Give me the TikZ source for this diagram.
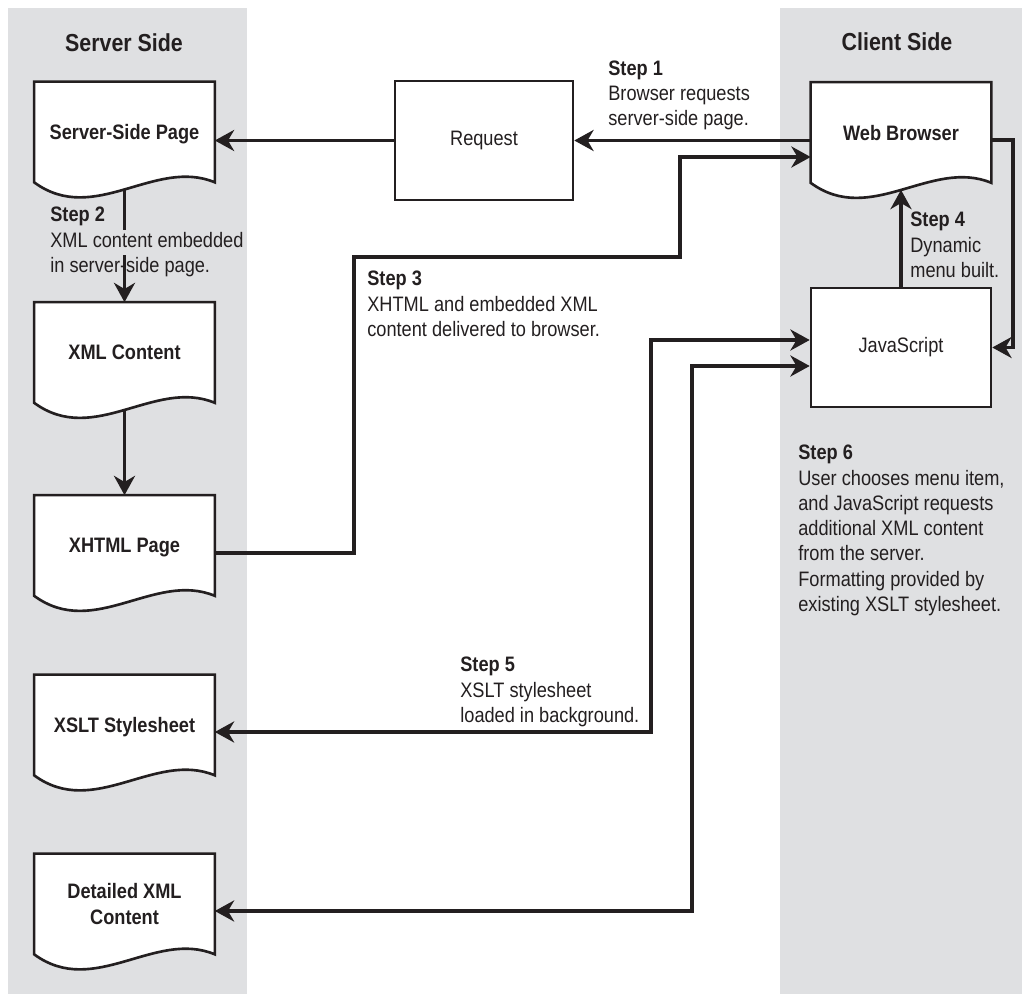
\documentclass[tikz,border=0pt]{standalone}
\usepackage{fontspec}
\setmainfont{Liberation Sans}[FakeStretch=0.87]
\usetikzlibrary{arrows.meta,calc}

\definecolor{panel}{RGB}{223,224,226}
\definecolor{ink}{RGB}{35,31,32}

\pgfdeclarelayer{bg}
\pgfdeclarelayer{docs}
\pgfsetlayers{bg,docs,main}

\newcommand{\bodysize}{\fontsize{11.9}{14.35}\selectfont}
\newcommand{\knockout}[1]{{\fboxsep=0pt\colorbox{panel}{\strut#1}}}

\tikzset{
  docbox/.style={minimum width=3.6cm, minimum height=2cm, inner sep=0pt, text depth=0pt, align=center, text=ink, font=\bodysize\bfseries},
  docline/.style={draw=ink, fill=white, line width=1.5pt},
  plainbox/.style={draw=ink, fill=white, line width=1.5pt, minimum width=3.56cm, minimum height=2.38cm, text=ink, font=\bodysize},
  link/.style={draw=ink, line width=1.8pt, ->},
  steptext/.style={anchor=north west, inner sep=0pt, align=left, text=ink, font=\bodysize},
  sidetitle/.style={anchor=base, text=ink, font=\fontsize{14}{17}\selectfont\bfseries}
}

\begin{document}
\begin{tikzpicture}[x=0.02cm, y=-0.02cm, >={Stealth[length=11pt,width=12pt,inset=3.5pt]}]
\useasboundingbox (0,0) rectangle (1022,994);

\begin{pgfonlayer}{bg}
  \fill[panel] (8,8) rectangle (247,994);
  \fill[panel] (780,8) rectangle (1022,994);
\end{pgfonlayer}

% column titles
\node[sidetitle] (srvtitle) at (124,51) {Server Side};
\node[sidetitle] (clttitle) at (897,50) {Client Side};

% documents
\node[docbox] (ssp) at (124.5,132) {Server-Side Page};
\node[docbox] (xmlc) at (124.5,352.5) {XML Content};
\node[docbox] (xhtml) at (124.5,545.5) {XHTML Page};
\node[docbox] (xslt) at (124.5,725) {XSLT Stylesheet};
\node[docbox] (detxml) at (124.5,904) {Detailed XML\\Content};
\node[docbox] (web) at (901,132.5) {Web Browser};

% plain boxes
\node[plainbox] (req) at (484,140.5) {Request};
\node[plainbox, minimum width=3.6cm] (js) at (901,347.5) {JavaScript};

\begin{pgfonlayer}{docs}
  \foreach \n in {ssp,xmlc,xhtml,xslt,detxml,web}
    \draw[docline] (\n.south west) -- (\n.north west) -- (\n.north east) -- (\n.south east)
      .. controls ($(\n.south east)+(-60,-25)$) and ($(\n.south west)+(60,44)$) .. (\n.south west) -- cycle;
\end{pgfonlayer}

% step 1
\draw[link] (web.west |- req.east) -- (req.east);
\draw[link] (req.west) -- (req.west -| ssp.east);

% step 2
\draw[link] ($(ssp.south)+(0,7)$) -- (xmlc.north);
\draw[link] ($(xmlc.south)+(0,7)$) -- (xhtml.north);

% step 3
\coordinate (s3a) at (354,257);
\coordinate (s3b) at (680,157);
\draw[link] ($(xhtml.east)+(0,7.5)$) -| (s3a) -| (s3b) -- (s3b -| web.west);

% step 4
\coordinate (s4) at (1013,347.5);
\draw[link] (js.north) -- ($(web.south)+(0,7)$);
\draw[link] ($(web.east)+(0,7.5)$) -| (s4) -- (js.east);

% steps 5 and 6
\coordinate (s5) at (651,340);
\coordinate (s6) at (692,366);
\draw[link, <->] ($(xslt.east)+(0,7)$) -| (s5) -- (s5 -| js.west);
\draw[link, <->] ($(detxml.east)+(0,7)$) -| (s6) -- (s6 -| js.west);

% step labels
\node[steptext] (step1) at (608,60.5) {\textbf{Step 1}\\Browser requests\\server-side page.};
\node[steptext] (step2) at (50,207) {\textbf{Step 2}\\\knockout{XML content embedded}\\in server-side page.};
\node[steptext] (step3) at (367,271) {\textbf{Step 3}\\XHTML and embedded XML\\content delivered to browser.};
\node[steptext] (step4) at (910,212) {\textbf{Step 4}\\Dynamic\\menu built.};
\node[steptext] (step5) at (460,657) {\textbf{Step 5}\\XSLT stylesheet\\loaded in background.};
\node[steptext] (step6) at (798,445) {\textbf{Step 6}\\User chooses menu item,\\and JavaScript requests\\additional XML content\\from the server.\\Formatting provided by\\existing XSLT stylesheet.};

\end{tikzpicture}
\end{document}
